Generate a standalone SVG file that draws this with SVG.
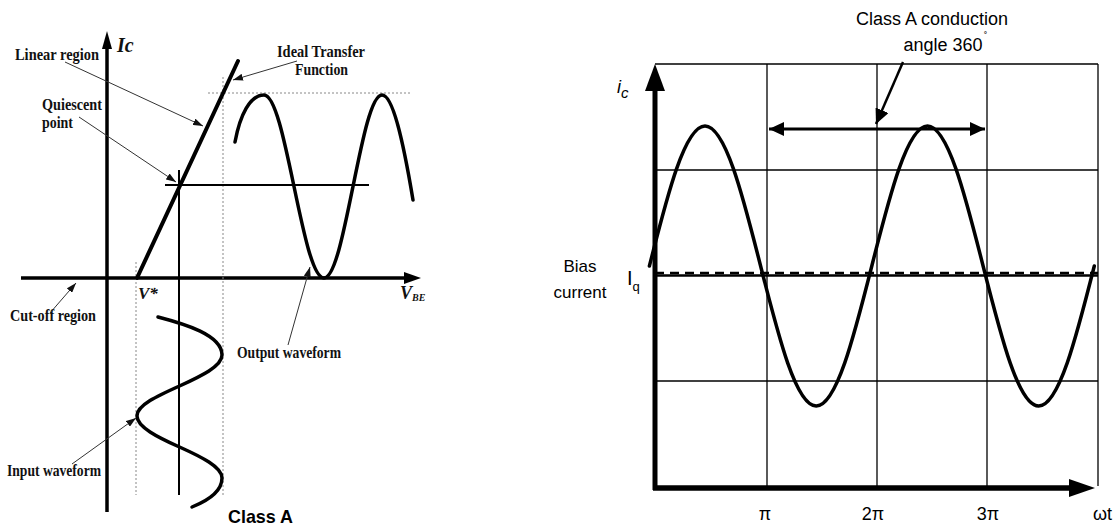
<svg xmlns="http://www.w3.org/2000/svg" width="1119" height="531" viewBox="0 0 1119 531">
<style>
.lbl{font-family:"Liberation Serif","Times New Roman",serif;font-weight:bold;font-size:16px;fill:#111}
.sym{font-family:"Liberation Serif","Times New Roman",serif;font-weight:bold;font-style:italic;fill:#111}
.sans{font-family:"Liberation Sans",Arial,sans-serif;fill:#000}
.axis{stroke:#000;stroke-width:3.5;fill:none}
.wave{stroke:#000;stroke-width:3.5;fill:none;stroke-linecap:round;stroke-linejoin:round}
.thin{stroke:#000;stroke-width:2;fill:none}
.dot{stroke:#888;stroke-width:1;stroke-dasharray:2 2;fill:none}
.leader{stroke:#333;stroke-width:1;fill:none;marker-end:url(#lead)}
.grid{stroke:#000;stroke-width:1.3;fill:none}
</style>
<defs>
<marker id="lead" markerUnits="userSpaceOnUse" markerWidth="10" markerHeight="7" refX="10" refY="3.5" orient="auto"><path d="M0,0 L10,3.5 L0,7 z" fill="#111"/></marker>
<marker id="big" markerUnits="userSpaceOnUse" markerWidth="15" markerHeight="14" refX="15" refY="7" orient="auto-start-reverse"><path d="M0,0 L15,7 L0,14 z" fill="#000"/></marker>
</defs>

<g id="left-chart">
  <g id="ic-axis">
    <line class="axis" x1="107" y1="47" x2="107" y2="512"/>
    <polygon points="107,31 102,49 112,49" fill="#000"/>
    <text class="sym" x="117" y="52" font-size="20">Ic</text>
  </g>
  <g id="vbe-axis">
    <line class="axis" x1="21" y1="278" x2="406" y2="278"/>
    <polygon points="421,278 404,272 404,284" fill="#000"/>
    <text class="sym" x="400" y="299" font-size="18">V<tspan font-size="10" dy="2">BE</tspan></text>
    <text class="sym" x="138" y="299" font-size="17">V*</text>
  </g>
  <g id="guides">
    <line class="dot" x1="136" y1="262" x2="136" y2="495"/>
    <line class="dot" x1="223" y1="77" x2="223" y2="495"/>
    <line class="dot" x1="208" y1="93" x2="412" y2="93"/>
  </g>
  <g id="transfer-function">
    <line x1="137" y1="278" x2="238" y2="61" stroke="#000" stroke-width="4" stroke-linecap="round"/>
  </g>
  <g id="quiescent-point">
    <line class="thin" x1="165" y1="185" x2="369" y2="185"/>
    <line class="thin" x1="179" y1="170" x2="179" y2="495"/>
  </g>
  <g id="output-waveform">
    <path class="wave" d="M235,142 C240,115 250,95 264,95 C274.9,95 284.2,139.6 294,186.5 C303.8,233.4 313.1,278 324,278 C334.5,278 343.5,233.4 353,186.5 C362.5,139.6 371.5,95 382,95 C392.7,95 403,140 413,200"/>
  </g>
  <g id="input-waveform">
    <path class="wave" d="M158,317 C185,324 222,335 222,355 C222,366.2 201.3,375.9 179.5,386 C157.7,395.8 137,405.1 137,416 S157.7,437.2 179.5,447 S222,467 222,478 S212,499 192,507"/>
  </g>
  <g id="labels-left">
    <text class="lbl" x="15" y="60" textLength="84" lengthAdjust="spacingAndGlyphs">Linear region</text>
    <text class="lbl" x="42" y="110" textLength="60" lengthAdjust="spacingAndGlyphs">Quiescent</text>
    <text class="lbl" x="42" y="128" textLength="31" lengthAdjust="spacingAndGlyphs">point</text>
    <text class="lbl" x="277" y="57" textLength="88" lengthAdjust="spacingAndGlyphs">Ideal Transfer</text>
    <text class="lbl" x="295" y="75" textLength="53" lengthAdjust="spacingAndGlyphs">Function</text>
    <text class="lbl" x="10" y="321" textLength="86" lengthAdjust="spacingAndGlyphs">Cut-off region</text>
    <text class="lbl" x="237" y="358" textLength="104" lengthAdjust="spacingAndGlyphs">Output waveform</text>
    <text class="lbl" x="7" y="476" textLength="94" lengthAdjust="spacingAndGlyphs">Input waveform</text>
    <text class="sans" x="228" y="523" font-size="19" font-weight="bold" textLength="65" lengthAdjust="spacingAndGlyphs">Class A</text>
  </g>
</g>

<g id="right-chart">
  <g id="grid">
    <line class="grid" x1="655" y1="64" x2="1098" y2="64"/>
    <line class="grid" x1="655" y1="170" x2="1098" y2="170"/>
    <line class="grid" x1="655" y1="381" x2="1098" y2="381"/>
    <line class="grid" x1="767" y1="64" x2="767" y2="488"/>
    <line class="grid" x1="877" y1="64" x2="877" y2="488"/>
    <line class="grid" x1="987" y1="64" x2="987" y2="488"/>
    <line class="grid" x1="1098" y1="64" x2="1098" y2="486"/>
  </g>
  <g id="bias-line">
    <line x1="655" y1="275.5" x2="1098" y2="275.5" stroke="#000" stroke-width="2.5"/>
    <line x1="655" y1="273" x2="1098" y2="273" stroke="#000" stroke-width="2.5" stroke-dasharray="9 6"/>
  </g>
  <g id="ic-waveform">
    <path class="wave" d="M649.4,266 C667.5,194.3 684.9,126 705,126 S742.5,194.3 760.6,266 S796.1,406 816.2,406 S853.7,337.7 871.8,266 S907.4,126 927.5,126 S965,194.3 983.1,266 S1018.6,406 1038.7,406 S1076.2,337.7 1094.3,266"/>
  </g>
  <g id="axes-right">
    <line x1="655" y1="86" x2="655" y2="490" stroke="#000" stroke-width="5"/>
    <polygon points="655,64 645,91 665,91" fill="#000"/>
    <line x1="653" y1="488" x2="1073" y2="488" stroke="#000" stroke-width="5.5"/>
    <polygon points="1095,488 1069,479 1069,497" fill="#000"/>
  </g>
  <g id="labels-right">
    <text class="sans" x="617" y="93" font-size="18" font-style="italic">i<tspan font-size="15" dy="5">c</tspan></text>
    <text class="sans" x="580" y="272" font-size="17" text-anchor="middle">Bias</text>
    <text class="sans" x="580" y="298" font-size="17" text-anchor="middle">current</text>
    <text class="sans" x="627" y="285" font-size="20">I<tspan font-size="13" dy="6">q</tspan></text>
    <text class="sans" x="932" y="25" font-size="18" text-anchor="middle">Class A conduction</text>
    <text class="sans" x="943" y="51" font-size="18" text-anchor="middle">angle 360</text>
    <text class="sans" x="984" y="40" font-size="10">˚</text>
    <text class="sans" x="765" y="520" font-size="18" text-anchor="middle">π</text>
    <text class="sans" x="873" y="520" font-size="18" text-anchor="middle">2π</text>
    <text class="sans" x="988" y="520" font-size="18" text-anchor="middle">3π</text>
    <text class="sans" x="1093" y="520" font-size="18">ωt</text>
  </g>
</g>

<g id="connectors">
  <line class="leader" x1="65" y1="62" x2="203" y2="126"/>
  <line class="leader" x1="79" y1="117" x2="176" y2="182"/>
  <line class="leader" x1="297" y1="61" x2="233" y2="80"/>
  <line class="leader" x1="50" y1="313" x2="76" y2="283"/>
  <line class="leader" x1="288" y1="345" x2="310" y2="267"/>
  <line class="leader" x1="72" y1="464" x2="136" y2="418"/>
  <line x1="769" y1="129" x2="985" y2="129" stroke="#000" stroke-width="3" marker-start="url(#big)" marker-end="url(#big)"/>
  <line x1="903" y1="62" x2="876" y2="124" stroke="#000" stroke-width="2.5" marker-end="url(#big)"/>
</g>
</svg>
